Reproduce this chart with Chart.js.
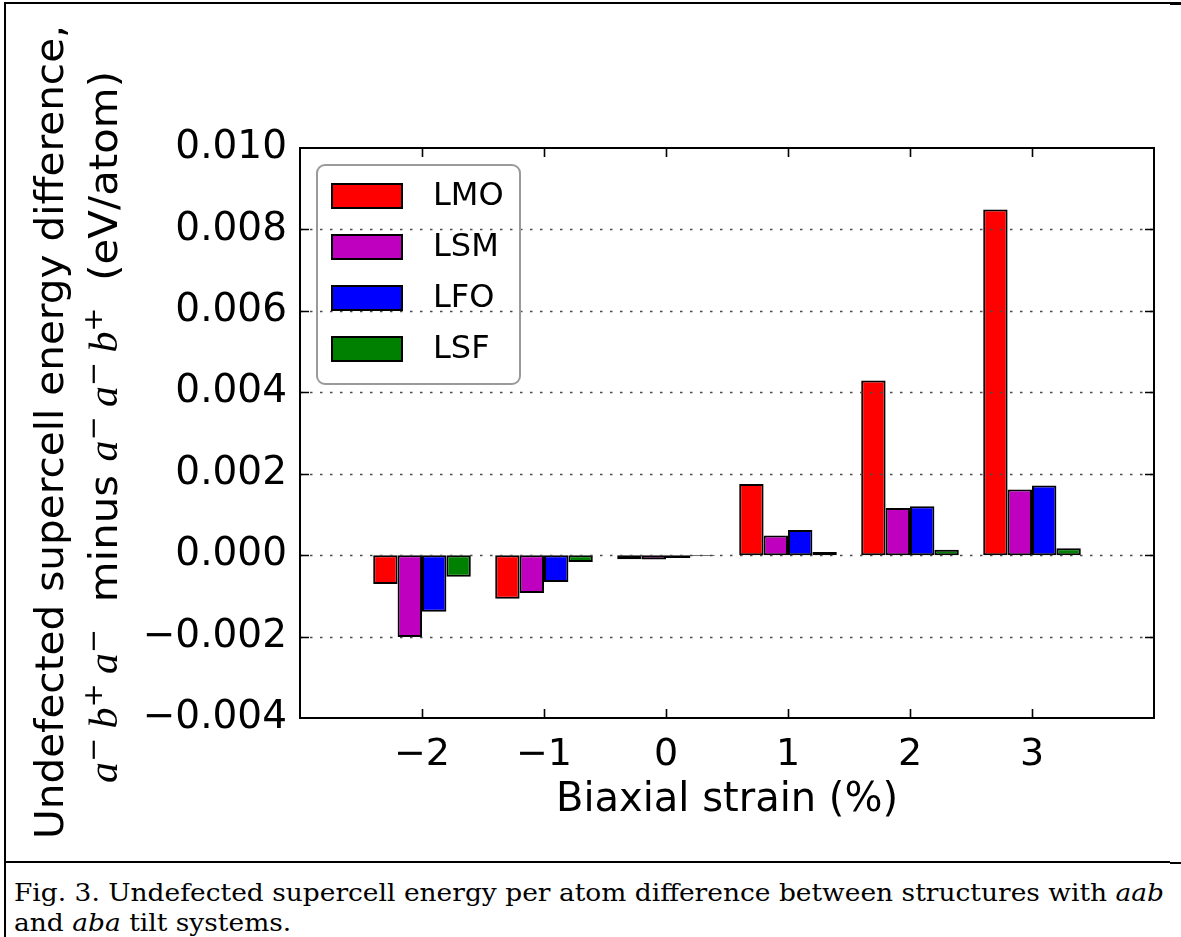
<!DOCTYPE html>
<html>
<head>
<meta charset="utf-8">
<script src="https://cdn.jsdelivr.net/npm/chart.js@4/dist/chart.umd.min.js"></script>
<style>
  html, body { margin: 0; padding: 0; background: #fff; }
  #page { position: relative; width: 1181px; height: 937px; overflow: hidden; background: #fff; }
  #chart { position: absolute; left: 0; top: 0; }
  .rule { position: absolute; background: #000; }
  #caption { position: absolute; left: 14px; top: 878px; font-family: "DejaVu Serif"; font-size: 25px;
             line-height: 30px; color: #000; white-space: nowrap; transform-origin: 0 0; }
  #caption div { display: inline-block; }
</style>
</head>
<body>
<div id="page">
  <canvas id="chart" width="1181" height="862"></canvas>
  <div class="rule" style="left:4px;top:2px;width:1166px;height:2px"></div>
  <div class="rule" style="left:1170px;top:2px;width:11px;height:3px"></div>
  <div class="rule" style="left:4px;top:2px;width:2px;height:935px"></div>
  <div class="rule" style="left:4px;top:861px;width:1166px;height:1.5px"></div>
  <div class="rule" style="left:1170px;top:862px;width:11px;height:2px"></div>
  <div id="caption">
    <div id="cap1">Fig. 3. Undefected supercell energy per atom difference between structures with <i>aab</i></div><br>
    <div id="cap2">and <i>aba</i> tilt systems.</div>
  </div>
</div>
<script>
// Biaxial strain (%) categories
const strains = [-2, -1, 0, 1, 2, 3];
// Series: energy difference (eV/atom)
const seriesNames = ['LMO', 'LSM', 'LFO', 'LSF'];
const LMO = [-0.00071, -0.00107, -0.00010, 0.00175, 0.00429, 0.00849];
const LSM = [-0.00201, -0.00093, -0.00011, 0.00048, 0.00116, 0.00161];
const LFO = [-0.00139, -0.00066, -0.00007, 0.00062, 0.00120, 0.00171];
const LSF = [-0.00053, -0.00017, -0.00002, 0.00008, 0.00013, 0.00017];
// Y tick values
const yTicks = [-0.004, -0.002, 0.000, 0.002, 0.004, 0.006, 0.008, 0.010];
const seriesColors = ['#ff0000', '#bf00bf', '#0000ff', '#008000'];

const seriesValues = [LMO, LSM, LFO, LSF];
const MINUS = '\u2212';
const fmtX = v => (v < 0 ? MINUS + Math.abs(v) : String(v));
const fmtY = v => (v < 0 ? MINUS : '') + Math.abs(v).toFixed(3);
const SANS = '"DejaVu Sans", sans-serif';

const datasets = seriesNames.map((name, k) => ({
  label: name,
  data: strains.map((s, i) => ({ x: s, y: seriesValues[k][i] })),
  backgroundColor: seriesColors[k],
  borderColor: '#000',
  borderWidth: 2,
  borderSkipped: false,
  barPercentage: 1.0,
  categoryPercentage: 0.8
}));

// draws a string along the current x direction, stretched to a given length
function fitText(ctx, runs, length) {
  let total = 0;
  runs.forEach(r => { ctx.font = r.font; r.w = ctx.measureText(r.text).width; total += r.w; });
  const k = length / total;
  let pos = -length / 2;
  runs.forEach(r => {
    ctx.save();
    ctx.font = r.font;
    ctx.translate(pos, -(r.raise || 0));
    ctx.scale(k, 1);
    ctx.fillText(r.text, 0, 0);
    ctx.restore();
    pos += r.w * k;
  });
}

// Frame, inward ticks, dotted grid on top of the bars, legend and axis titles
const decorations = {
  id: 'decorations',
  afterDatasetsDraw(chart) {
    const { ctx, chartArea: a, scales: { x, y } } = chart;
    ctx.save();
    // dotted horizontal grid
    ctx.strokeStyle = '#4a4a4a';
    ctx.lineWidth = 1.6;
    ctx.setLineDash([2.5, 7.5]);
    yTicks.slice(1, -1).forEach(v => {
      const py = Math.round(y.getPixelForValue(v)) + 0.5;
      ctx.beginPath(); ctx.moveTo(a.left, py); ctx.lineTo(a.right, py); ctx.stroke();
    });
    ctx.setLineDash([]);
    // axes frame
    ctx.strokeStyle = '#000';
    ctx.lineWidth = 2;
    ctx.strokeRect(a.left, a.top, a.right - a.left, a.bottom - a.top);
    // inward tick marks on all four sides
    const tl = 9;
    ctx.lineWidth = 1.6;
    ctx.beginPath();
    strains.forEach(v => {
      const px = Math.round(x.getPixelForValue(v)) + 0.5;
      ctx.moveTo(px, a.bottom); ctx.lineTo(px, a.bottom - tl);
      ctx.moveTo(px, a.top); ctx.lineTo(px, a.top + tl);
    });
    yTicks.slice(1, -1).forEach(v => {
      const py = Math.round(y.getPixelForValue(v)) + 0.5;
      ctx.moveTo(a.left, py); ctx.lineTo(a.left + tl, py);
      ctx.moveTo(a.right, py); ctx.lineTo(a.right - tl, py);
    });
    ctx.stroke();
    ctx.restore();
  },
  afterDraw(chart) {
    const { ctx, chartArea: a } = chart;
    ctx.save();
    // legend
    const lx = a.left + 17, ly = a.top + 17, lw = 203, lh = 219;
    ctx.beginPath();
    ctx.roundRect(lx, ly, lw, lh, 8);
    ctx.strokeStyle = '#9a9a9a';
    ctx.lineWidth = 2;
    ctx.stroke();
    chart.data.datasets.forEach((ds, k) => {
      const cy = ly + 31 + k * 51;
      ctx.fillStyle = ds.backgroundColor;
      ctx.fillRect(lx + 15, cy - 12, 70, 24);
      ctx.strokeStyle = '#000';
      ctx.lineWidth = 2;
      ctx.strokeRect(lx + 15, cy - 12, 70, 24);
      ctx.fillStyle = '#000';
      ctx.font = '32px ' + SANS;
      ctx.textAlign = 'left';
      ctx.textBaseline = 'middle';
      ctx.fillText(ds.label, lx + 116, cy + 1);
    });
    // x axis title
    ctx.fillStyle = '#000';
    ctx.font = '40px ' + SANS;
    ctx.textAlign = 'center';
    ctx.textBaseline = 'alphabetic';
    ctx.fillText('Biaxial strain (%)', (a.left + a.right) / 2, 811);
    // y axis title, first line
    ctx.textAlign = 'left';
    ctx.save();
    ctx.translate(63, 432);
    ctx.rotate(-Math.PI / 2);
    fitText(ctx, [{ text: 'Undefected supercell energy difference,', font: '39px ' + SANS }], 814);
    ctx.restore();
    // y axis title, second line with superscripts
    const it = 'italic 39px "Liberation Serif", serif';
    const rm = '39px ' + SANS;
    const sp = '27px ' + SANS;
    const runs = [
      { text: 'a', font: it }, { text: '\u2212 ', font: sp, raise: 15 }, { text: 'b', font: it },
      { text: '+ ', font: sp, raise: 15 }, { text: 'a', font: it }, { text: '\u2212', font: sp, raise: 15 },
      { text: '  minus ', font: rm },
      { text: 'a', font: it }, { text: '\u2212 ', font: sp, raise: 15 }, { text: 'a', font: it },
      { text: '\u2212 ', font: sp, raise: 15 }, { text: 'b', font: it }, { text: '+', font: sp, raise: 15 },
      { text: '  (eV/atom)', font: rm }
    ];
    ctx.save();
    ctx.translate(117, 427);
    ctx.rotate(-Math.PI / 2);
    fitText(ctx, runs, 712);
    ctx.restore();
    ctx.restore();
  }
};

new Chart(document.getElementById('chart'), {
  type: 'bar',
  data: { datasets },
  options: {
    responsive: false,
    animation: false,
    devicePixelRatio: 1,
    layout: { padding: { left: 0, top: 148, right: 27, bottom: 0 } },
    plugins: { legend: { display: false }, tooltip: { enabled: false } },
    scales: {
      x: {
        type: 'linear',
        min: -3, max: 4,
        offset: false,
        afterBuildTicks: s => { s.ticks = [-3, ...strains, 4].map(v => ({ value: v })); },
        ticks: {
          callback: v => (strains.includes(v) ? fmtX(v) : ''),
          font: { family: 'DejaVu Sans', size: 38 }, color: '#000',
          padding: 14, maxRotation: 0, autoSkip: false
        },
        grid: { display: false, drawTicks: false },
        border: { display: false },
        afterFit: s => { s.height = 144; }
      },
      y: {
        min: -0.004, max: 0.010,
        afterBuildTicks: s => { s.ticks = yTicks.map(v => ({ value: v })); },
        ticks: {
          callback: v => fmtY(v),
          font: { family: 'DejaVu Sans', size: 39 }, color: '#000',
          padding: 13, autoSkip: false
        },
        grid: { display: false, drawTicks: false },
        border: { display: false },
        afterFit: s => { s.width = 300; }
      }
    }
  },
  plugins: [decorations]
});

// stretch the first caption line to the page text width
const cap = document.getElementById('caption');
const w1 = document.getElementById('cap1').getBoundingClientRect().width;
cap.style.transform = 'scaleX(' + (1150 / w1).toFixed(4) + ')';
</script>
</body>
</html>
